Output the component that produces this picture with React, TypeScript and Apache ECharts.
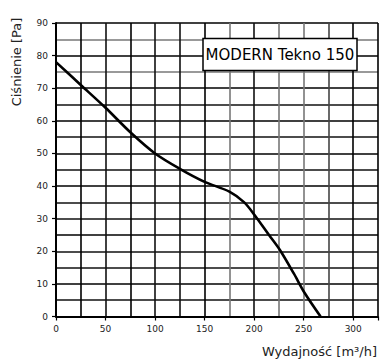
import React, { useEffect, useRef } from "react";
import * as echarts from "echarts";

const flowValues = [0, 25, 50, 75, 100, 125, 150, 175, 190, 200, 215, 226, 240, 251, 267];
const pressureValues = [78, 71, 64, 56.5, 50, 45.3, 41.3, 38.3, 35, 31.3, 25, 20.4, 13.2, 7.2, 0];
const xTickLabels = [0, 50, 100, 150, 200, 250, 300];
const yTickLabels = [0, 10, 20, 30, 40, 50, 60, 70, 80, 90];
const vGridColors = ["#000", "#000", "#111", "#000", "#111", "#111", "#000", "#777", "#111", "#777", "#777", "#444", "#000", "#000"];
const hGridColors = ["#000", "#111", "#000", "#111", "#111", "#000", "#111", "#111", "#000", "#111", "#000", "#111", "#000", "#111", "#000", "#777", "#000", "#777", "#000"];
const productLabel = "MODERN Tekno 150";
const xName = "Wydajność [m³/h]";
const yName = "Ciśnienie [Pa]";

const FONT = "DejaVu Sans";

export default function App() {
  const ref = useRef<HTMLDivElement>(null);
  useEffect(() => {
    if (!ref.current) return;
    const chart = echarts.init(ref.current, null, { renderer: "svg" });
    const data = flowValues.map((x, i) => [x, pressureValues[i]]);
    chart.setOption({
      animation: false,
      backgroundColor: "#fff",
      grid: { left: 56, right: 4, top: 23, bottom: 43.5, outerBoundsMode: "none" },
      xAxis: [
        {
          type: "value", min: 0, max: 325, interval: 25,
          axisLine: { show: false }, axisTick: { show: false }, axisLabel: { show: false },
          splitLine: { show: true, lineStyle: { color: vGridColors, width: 1.6 } },
        },
        {
          type: "value", position: "bottom", min: 0, max: 325, interval: 50,
          axisLine: { show: true, onZero: false, lineStyle: { color: "#000", width: 2 } },
          axisTick: { show: true, length: 4, lineStyle: { color: "#000", width: 1.2 } },
          axisLabel: {
            show: true, margin: 8, fontSize: 9, color: "#222", fontFamily: FONT,
            formatter: (v: number) => (xTickLabels.includes(v) ? String(v) : ""),
          },
          splitLine: { show: false },
        },
      ],
      yAxis: [
        {
          type: "value", min: 0, max: 90, interval: 5,
          axisLine: { show: false }, axisTick: { show: false }, axisLabel: { show: false },
          splitLine: { show: true, lineStyle: { color: hGridColors, width: 1.6 } },
        },
        {
          type: "value", position: "left", min: 0, max: 90, interval: 10,
          axisLine: { show: true, onZero: false, lineStyle: { color: "#000", width: 2 } },
          axisTick: { show: true, length: 4, lineStyle: { color: "#000", width: 1.2 } },
          axisLabel: {
            show: true, margin: 8, fontSize: 9, color: "#222", fontFamily: FONT,
            formatter: (v: number) => (yTickLabels.includes(v) ? String(v) : ""),
          },
          splitLine: { show: false },
        },
      ],
      series: [
        {
          type: "line", xAxisIndex: 0, yAxisIndex: 0, data, smooth: 0.3,
          showSymbol: false, symbol: "none",
          lineStyle: { color: "#000", width: 2.6 }, z: 5,
        },
      ],
      graphic: [
        { type: "rect", z: 100, shape: { x: 203, y: 38.5, width: 154, height: 32 }, style: { fill: "#fff", stroke: "#000", lineWidth: 1.5 } },
        { type: "text", z: 101, x: 280, y: 55, style: { text: productLabel, fill: "#000", font: `15px ${FONT}`, align: "center", verticalAlign: "middle" } },
        { type: "text", z: 100, x: 377, y: 351, style: { text: xName, fill: "#222", font: `13px ${FONT}`, align: "right", verticalAlign: "middle" } },
        { type: "text", z: 100, x: 16, y: 62, rotation: Math.PI / 2, style: { text: yName, fill: "#222", font: `13px ${FONT}`, align: "center", verticalAlign: "middle" } },
      ],
    });
    return () => chart.dispose();
  }, []);
  return <div ref={ref} style={{ position: "fixed", left: 0, top: 0, width: 382, height: 360 }} />;
}
